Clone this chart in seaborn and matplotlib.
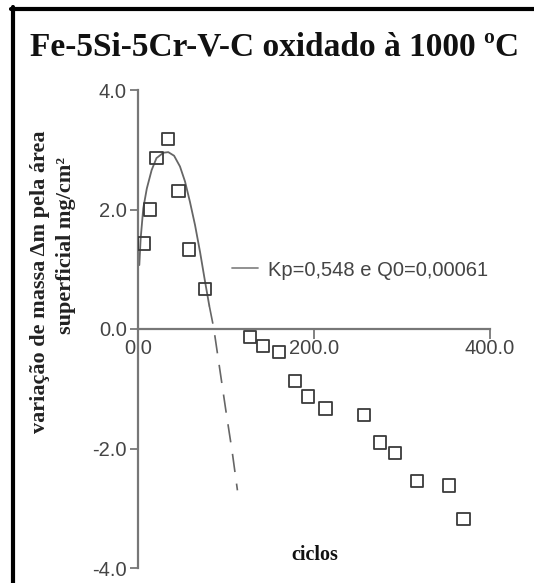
import matplotlib
matplotlib.use("Agg")
import matplotlib.pyplot as plt
import seaborn as sns
import pandas as pd
from matplotlib.lines import Line2D

# ---- data ----
ciclos = [7, 14, 21, 34, 46, 58, 76, 127, 142, 160, 178, 193, 213, 257, 275, 292, 317, 353, 370]
massa = [1.43, 2.0, 2.86, 3.18, 2.31, 1.33, 0.67, -0.14, -0.28, -0.39, -0.87, -1.13, -1.33,
         -1.44, -1.90, -2.07, -2.54, -2.62, -3.18]

fit_x = [1.5, 3, 6, 10, 15.5, 21, 28.8, 34.4, 41, 47.7, 53.4, 59, 64.8, 70.5, 76, 81]
fit_y = [1.07, 1.51, 2.02, 2.35, 2.66, 2.86, 2.95, 2.96, 2.90, 2.72, 2.47, 2.13, 1.74, 1.29, 0.81, 0.39]

ext_x = [81, 86, 92, 100, 107, 113]
ext_y = [0.39, 0.02, -0.58, -1.38, -2.05, -2.70]

x_ticks = [0, 200, 400]
x_tick_labels = ["0.0", "200.0", "400.0"]
y_ticks = [-4, -2, 0, 2, 4]
y_tick_labels = ["-4.0", "-2.0", "0.0", "2.0", "4.0"]

title = "Fe-5Si-5Cr-V-C oxidado à 1000 ºC"
ylabel1 = "variação de massa Δm pela área"
ylabel2 = "superficial mg/cm²"
xlabel = "ciclos"
legend_label = "Kp=0,548 e Q0=0,00061"

sns.set_theme(style="white")
plt.rcParams["font.family"] = ["Liberation Sans", "DejaVu Sans"]

W, H = 534, 583
fig = plt.figure(figsize=(W / 100, H / 100), dpi=100)
fig.patch.set_facecolor("white")
ax = fig.add_axes([138 / W, 15 / H, 352 / W, 478 / H])
ax.set_facecolor("white")

df_pts = pd.DataFrame({"ciclos": ciclos, "massa": massa})
df_fit = pd.DataFrame({"x": fit_x, "y": fit_y})
df_ext = pd.DataFrame({"x": ext_x, "y": ext_y})

curve_col = "#666666"
sns.lineplot(data=df_fit, x="x", y="y", ax=ax, color=curve_col, linewidth=1.3)
sns.lineplot(data=df_ext, x="x", y="y", ax=ax, color=curve_col, linewidth=1.2,
             linestyle=(0, (11, 7)))
sns.scatterplot(data=df_pts, x="ciclos", y="massa", ax=ax, marker="s", s=78,
                facecolor="none", edgecolor="#3a3a3a", linewidth=1.3, zorder=5)

ax.set_xlim(0, 400)
ax.set_ylim(-4, 4)
ax.set_xlabel("")
ax.set_ylabel("")
for s in ["top", "right"]:
    ax.spines[s].set_visible(False)
ax.spines["bottom"].set_position(("data", 0))
for s in ["left", "bottom"]:
    ax.spines[s].set_color("#777777")
    ax.spines[s].set_linewidth(1.6)

ax.set_xticks(x_ticks)
ax.set_xticklabels(x_tick_labels)
ax.set_yticks(y_ticks)
ax.set_yticklabels(y_tick_labels)
ax.tick_params(axis="x", direction="out", length=7, width=1.3, color="#777777",
               labelsize=14.5, labelcolor="#444444", pad=0, bottom=True)
ax.tick_params(axis="y", direction="out", length=6, width=1.3, color="#777777",
               labelsize=14.5, labelcolor="#444444", pad=2, left=True)
ax.grid(False)

handle = Line2D([0], [0], color="#888888", linewidth=1.3)
ax.legend([handle], [legend_label], loc="center left",
          bbox_to_anchor=(232 / W, 1 - 270 / H), bbox_transform=fig.transFigure,
          frameon=False, fontsize=14.5, handlelength=1.3, handletextpad=0.5,
          borderpad=0, borderaxespad=0, labelcolor="#444444")

serif = ["Liberation Serif", "DejaVu Serif"]
fig.text(275 / W, 1 - 47 / H, title, ha="center", va="center", fontsize=24,
         fontweight="bold", family=serif, color="#111111")
fig.text(40 / W, 1 - 282 / H, ylabel1, ha="center", va="center", rotation=90,
         fontsize=16, fontweight="bold", family=serif, color="#222222")
fig.text(66 / W, 1 - 246 / H, ylabel2, ha="center", va="center", rotation=90,
         fontsize=16, fontweight="bold", family=serif, color="#222222")
fig.text(315 / W, 1 - 555 / H, xlabel, ha="center", va="center", fontsize=14.5,
         fontweight="bold", family=serif, color="#111111")

# frame around the picture (top and left edges visible in reference)
fig.add_artist(Line2D([11 / W, 1.0], [1 - 8.5 / H, 1 - 8.5 / H], color="black",
                      linewidth=3, transform=fig.transFigure))
fig.add_artist(Line2D([13 / W, 13 / W], [1 - 7 / H, 0.0], color="black",
                      linewidth=3, transform=fig.transFigure))

fig.savefig("out.png", dpi=100, facecolor="white")
